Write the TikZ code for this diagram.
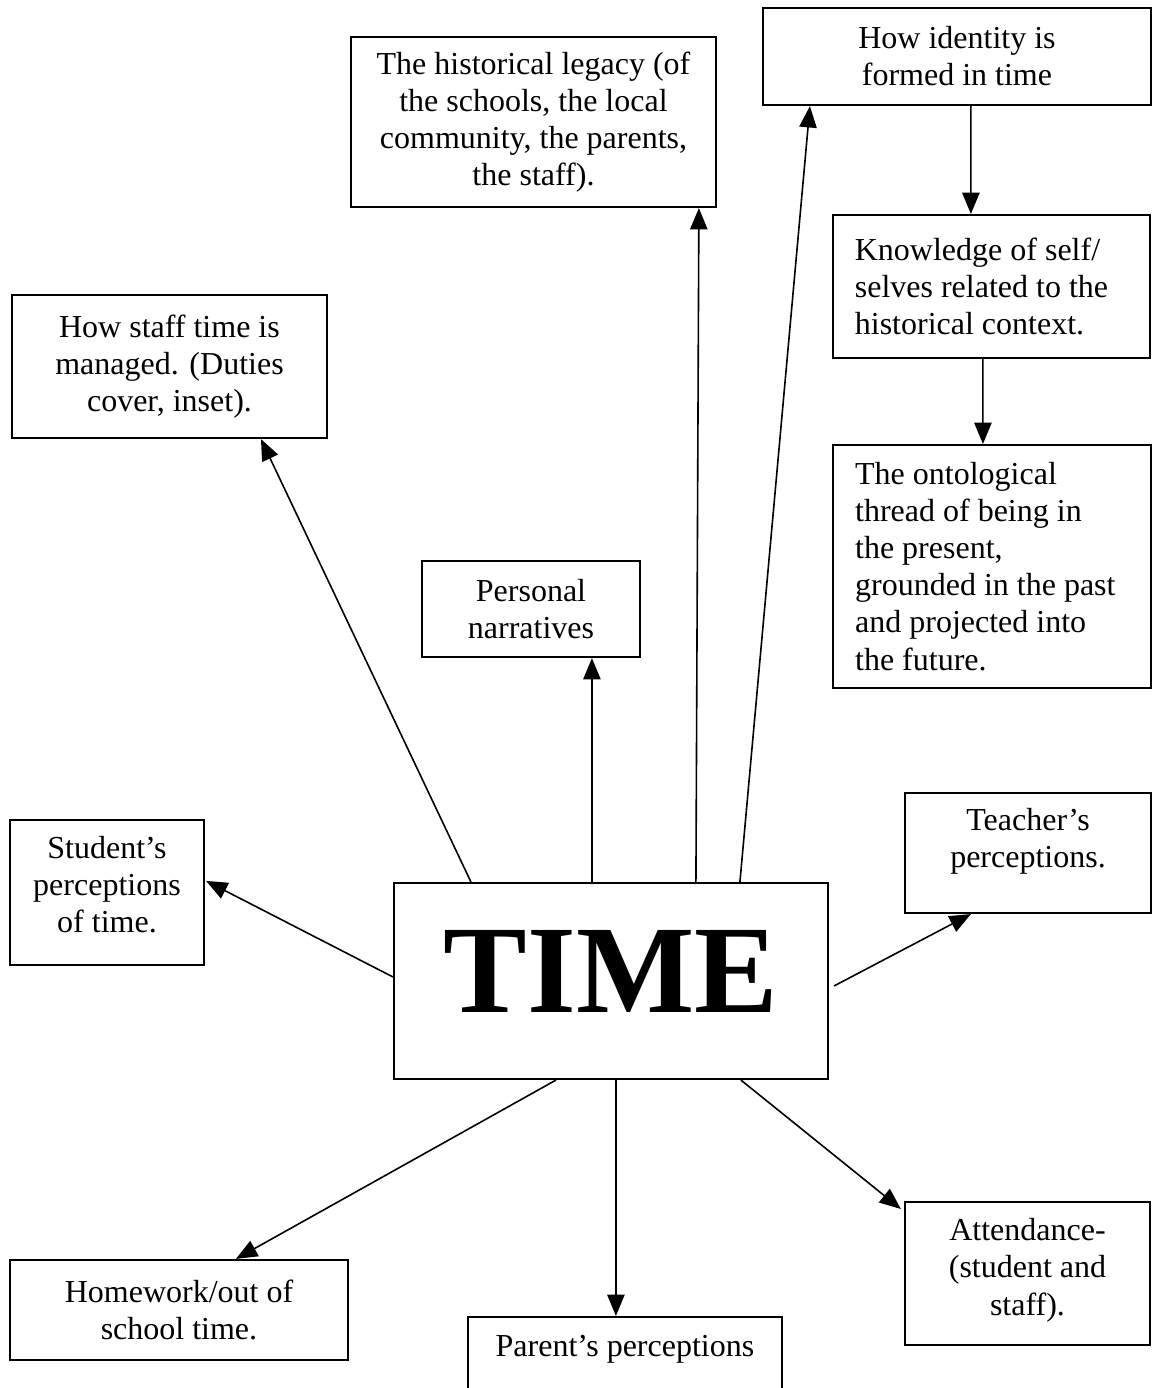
\documentclass[tikz,border=0pt]{standalone}
\usepackage{fontspec}
\setmainfont{Liberation Serif}
\usetikzlibrary{arrows.meta}

\begin{document}
\begin{tikzpicture}[x=0.375pt, y=-0.375pt,
	box/.style={shape=rectangle, draw=black, line width=0.8pt, inner sep=2pt, align=center, font=\fontsize{12}{13.9}\selectfont},
	arr/.style={line width=0.6pt, -{Triangle[length=8pt,width=6.5pt]}}]
	\useasboundingbox (0,0) rectangle (1154,1388);
	\node[box, minimum width=136.9pt, minimum height=63.75pt] (legacy) at (533.5,122)  {The historical legacy (of\\the schools, the local\\community, the parents,\\the staff).};
	\node[box, minimum width=145.5pt, minimum height=36.4pt]  (ident)  at (957,56.5)   {How identity is\\formed in time};
	\node[box, minimum width=118.9pt, minimum height=53.6pt, align=left] (know) at (991.5,286.5) {Knowledge of self/\\selves related to the\rule{7.5pt}{0pt}\\historical context.};
	\node[box, minimum width=119.25pt, minimum height=91.1pt, align=left] (onto) at (992,566.5) {The ontological\\thread of being in\\the present,\\grounded in the past\rule{5pt}{0pt}\\and projected into\\the future.};
	\node[box, minimum width=118.1pt, minimum height=53.6pt]  (staff)  at (169.5,366.5) {How staff time is\\managed. (Duties\\cover, inset).};
	\node[box, minimum width=81.75pt, minimum height=36pt]    (pers)   at (531,609)    {Personal\\narratives};
	\node[box, minimum width=72.75pt, minimum height=54.4pt]  (stud)   at (107,892.5)  {Student's\\perceptions\\of time.\rule[-6pt]{0pt}{0pt}};
	\node[box, minimum width=162.75pt, minimum height=73.5pt, font=\fontsize{47}{50}\selectfont\bfseries] (time) at (611,981) {TIME\rule[-7.5pt]{0pt}{0pt}};
	\node[box, minimum width=92.25pt, minimum height=45pt]    (teach)  at (1028,853)   {Teacher's\\perceptions.\rule[-11.5pt]{0pt}{0pt}};
	\node[box, minimum width=126.75pt, minimum height=37.5pt] (home)   at (179,1310)   {Homework/out of\\school time.};
	\node[box, minimum width=117.75pt, minimum height=30pt]   (parent) at (625,1357)   {Parent's perceptions\rule[-8pt]{0pt}{0pt}};
	\node[box, minimum width=91.9pt, minimum height=53.6pt]   (attend) at (1027.5,1273.5) {Attendance-\\(student and\\staff).\rule[-5pt]{0pt}{0pt}};
	\path[arr] ([shift={(78,0)}]time.north west)  edge ([shift={(250,0)}]staff.south west);
	\path[arr] ([shift={(199,0)}]time.north west) edge ([shift={(171,0)}]pers.south west);
	\path[arr] ([shift={(303,0)}]time.north west) edge ([shift={(349,0)}]legacy.south west);
	\path[arr] ([shift={(347,0)}]time.north west) edge ([shift={(48,0)}]ident.south west);
	\path[arr] ([shift={(209,0)}]ident.south west) edge ([shift={(139,0)}]know.north west);
	\path[arr] ([shift={(151,0)}]know.south west) edge ([shift={(151,0)}]onto.north west);
	\path[arr] ([shift={(0,95)}]time.north west)  edge ([shift={(1,62)}]stud.north east);
	\path[arr] ([shift={(5,104)}]time.north east) edge ([shift={(67,0)}]teach.south west);
	\path[arr] ([shift={(163,0)}]time.south west) edge ([shift={(227,0)}]home.north west);
	\path[arr] ([shift={(223,0)}]time.south west) edge ([shift={(149,0)}]parent.north west);
	\path[arr] ([shift={(348,0)}]time.south west) edge ([shift={(-3,8)}]attend.north west);
\end{tikzpicture}
\end{document}
